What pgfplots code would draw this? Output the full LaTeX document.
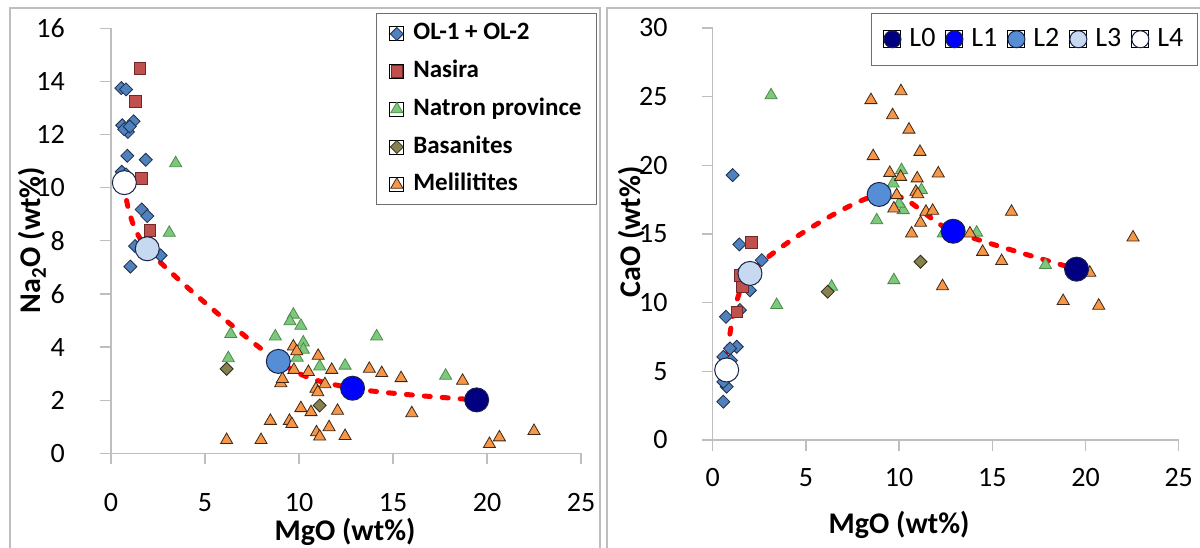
\documentclass[border=0pt]{standalone}
\usepackage{pgfplots}
\pgfplotsset{compat=1.18}
\usepackage{fontspec}
\setmainfont{Carlito}
\definecolor{olfill}{RGB}{79,129,189}
\definecolor{oldraw}{RGB}{30,45,75}
\definecolor{nafill}{RGB}{192,80,77}
\definecolor{nadraw}{RGB}{110,40,38}
\definecolor{ntfill}{RGB}{125,200,125}
\definecolor{ntdraw}{RGB}{75,140,75}
\definecolor{bafill}{RGB}{135,128,80}
\definecolor{badraw}{RGB}{45,45,25}
\definecolor{mefill}{RGB}{247,150,70}
\definecolor{medraw}{RGB}{60,40,25}
\definecolor{lzero}{RGB}{0,0,128}
\definecolor{lone}{RGB}{0,0,255}
\definecolor{ltwo}{RGB}{85,142,213}
\definecolor{lthree}{RGB}{198,217,241}
\definecolor{ldraw}{RGB}{25,35,70}
\definecolor{axgray}{RGB}{190,190,190}
\definecolor{boxgray}{RGB}{110,110,110}

\pgfplotsset{
  excel/.style={
    scale only axis,
    axis lines*=left,
    axis line style={axgray, line width=1.3pt},
    tick style={axgray, line width=1.3pt},
    tick align=outside,
    major tick length=11pt,
    xmin=0, xmax=25, xtick={0,5,...,25},
    tick label style={font=\fontsize{28}{30}\selectfont, black, inner sep=1pt},
    /pgf/number format/assume math mode=true,
    label style={font=\fontsize{30}{32}\selectfont\bfseries, inner sep=1pt},
    clip=false,
  },
  limgA/.style={legend image code/.code={\path (0pt,-7pt) rectangle (14pt,7pt); \draw[##1] plot coordinates {(7pt,0pt)};}},
  limgB/.style={legend image code/.code={\path (0pt,-8.5pt) rectangle (17pt,8.5pt); \draw[##1] plot coordinates {(8.5pt,0pt)};}},
  ol/.style={only marks, mark=square*, mark size=4.6pt, mark options={rotate=45, fill=olfill, draw=oldraw, line width=0.8pt}, limgA},
  na/.style={only marks, mark=square*, mark size=5.8pt, mark options={fill=nafill, draw=nadraw, line width=0.8pt}, limgA},
  nt/.style={only marks, mark=triangle*, mark size=7pt, mark options={fill=ntfill, draw=ntdraw, line width=0.8pt}, limgA},
  ba/.style={only marks, mark=square*, mark size=4.6pt, mark options={rotate=45, fill=bafill, draw=badraw, line width=0.8pt}, limgA},
  me/.style={only marks, mark=triangle*, mark size=7pt, mark options={fill=mefill, draw=medraw, line width=0.8pt}, limgA},
  lpt/.style={only marks, mark=*, mark size=12pt, mark options={fill=#1, draw=ldraw, line width=1pt}},
  lleg/.style={only marks, mark=*, mark size=8.5pt, mark options={fill=#1, draw=ldraw, line width=1pt}, limgB},
  trend/.style={red, line width=5pt, dash pattern=on 6pt off 12pt, line cap=round, smooth, tension=0.5, no marks},
}

\begin{document}
\begin{tikzpicture}
\path[use as bounding box] (0pt,0pt) rectangle (1200pt,547pt);
\draw[axgray, line width=1.5pt] (10pt,-10pt) -- (10pt,539pt) -- (600pt,539pt) -- (600pt,-10pt);
\draw[axgray, line width=1.5pt] (607pt,-10pt) -- (607pt,539pt) -- (1210pt,539pt);

% ---------------- left panel ----------------
\begin{axis}[excel,
  at={(111pt,93.7pt)}, anchor=south west,
  width=470pt, height=425pt,
  ymin=0, ymax=16, ytick={0,2,...,16},
  xticklabel style={yshift=-28pt},
  yticklabel style={xshift=-34pt},
  xlabel={MgO (wt\%)}, ylabel={Na$_\mathbf{2}$O (wt\%)},
  xlabel style={at={(axis description cs:0.498,-0.204)}, anchor=base},
  ylabel style={at={(axis description cs:-0.168,0.502)}, anchor=center},
  legend style={at={(1.034,1.035)}, anchor=north east, draw=boxgray, line width=1pt,
    font=\fontsize{25}{28}\selectfont\bfseries, legend cell align=left,
    inner xsep=13pt, inner ysep=6pt, row sep=9.7pt,
    nodes={inner xsep=2pt, inner ysep=2pt, text height=18pt, text depth=6pt},
    /tikz/every odd column/.append style={column sep=7pt}},
]
\addplot[ol] coordinates {
(0.55,13.75) (0.8,13.7) (0.6,12.35) (1.2,12.5) (0.9,12.1) (0.7,12.2) (1.0,12.3)
(0.87,11.2) (1.85,11.05) (0.57,10.6) (0.8,10.5) (1.63,9.18) (1.93,8.93)
(1.28,7.8) (2.64,7.45) (1.03,7.03)};
\addlegendentry{OL-1 + OL-2}
\addplot[na] coordinates {(1.54,14.5) (1.31,13.25) (1.63,10.35) (2.07,8.4)};
\addlegendentry{Nasira}
\addplot[nt] coordinates {
(3.44,10.92) (3.1,8.3) (6.37,4.49) (6.24,3.58) (8.74,4.4) (9.7,5.22) (9.52,4.97)
(10.1,4.8) (10.23,4.17) (10.23,3.9) (11.1,3.27) (12.45,3.3) (14.13,4.4) (17.8,2.92) (9.9,3.6)};
\addlegendentry{Natron province}
\addplot[ba] coordinates {(6.15,3.18) (11.1,1.8)};
\addlegendentry{Basanites}
\addplot[me] coordinates {
(6.15,0.5) (7.98,0.5) (8.48,1.22) (9.49,1.22) (9.62,1.1) (9.03,2.64) (9.12,2.8)
(9.7,4.02) (9.88,3.84) (9.73,3.14) (10.5,3.06) (11.02,3.67) (11.74,3.14) (11.38,2.6)
(10.9,2.43) (11.0,2.3) (10.1,1.7) (10.64,1.55) (12.05,1.6) (11.6,0.98) (10.93,0.79)
(11.1,0.63) (12.45,0.65) (13.74,3.18) (14.4,3.02) (15.43,2.83) (18.7,2.73) (16.0,1.51)
(20.66,0.6) (20.13,0.35) (22.5,0.84)};
\addlegendentry{Melilitites}
\addplot[lpt=lzero, forget plot] coordinates {(19.45,2.01)};
\addplot[lpt=lone, forget plot] coordinates {(12.85,2.45)};
\addplot[lpt=ltwo, forget plot] coordinates {(8.9,3.46)};
\addplot[lpt=lthree, forget plot] coordinates {(1.93,7.7)};
\addplot[lpt=white, forget plot] coordinates {(0.71,10.19)};
\addplot[trend, forget plot] coordinates {(0.71,10.19) (1.93,7.7) (8.9,3.46) (12.85,2.45) (19.45,2.01)};
\end{axis}

% ---------------- right panel ----------------
\begin{axis}[excel,
  at={(712.7pt,107pt)}, anchor=south west,
  width=466pt, height=412pt,
  ymin=0, ymax=30, ytick={0,5,...,30},
  xticklabel style={yshift=-16pt},
  yticklabel style={xshift=-33pt},
  xlabel={MgO (wt\%)}, ylabel={CaO (wt\%)},
  xlabel style={at={(axis description cs:0.40,-0.226)}, anchor=base},
  ylabel style={at={(axis description cs:-0.174,0.505)}, anchor=center},
  legend columns=5,
  legend style={at={(1.041,1.037)}, anchor=north east, draw=boxgray, line width=1pt,
    font=\fontsize{28}{30}\selectfont,
    inner xsep=12pt, inner ysep=11pt,
    nodes={inner xsep=2pt, inner ysep=2pt, text height=20pt, text depth=6pt},
    /tikz/every odd column/.append style={column sep=6pt},
    /tikz/every even column/.append style={column sep=8pt}},
]
\addplot[ol, forget plot] coordinates {
(1.07,19.29) (1.43,14.24) (2.63,13.1) (2.0,10.9) (0.71,8.97) (1.46,9.46) (1.29,6.79)
(0.93,6.67) (0.57,6.06) (0.98,5.8) (0.75,3.88) (0.57,4.24) (0.57,2.79) (1.6,12.3)};
\addplot[na, forget plot] coordinates {(2.09,14.39) (1.46,12.0) (1.6,11.16) (1.29,9.34)};
\addplot[nt, forget plot] coordinates {
(3.13,25.1) (3.43,9.83) (6.38,11.16) (10.13,19.65) (9.68,18.68) (11.2,18.2) (8.8,16.0)
(10.22,16.74) (12.37,15.04) (14.16,15.1) (9.72,11.64) (17.85,12.74) (10.0,17.2)};
\addplot[ba, forget plot] coordinates {(6.17,10.8) (11.15,12.98)};
\addplot[me, forget plot] coordinates {
(8.49,24.75) (10.1,25.4) (9.65,23.65) (10.53,22.6) (11.12,20.98) (8.61,20.67) (9.5,19.45)
(10.08,19.16) (10.97,19.05) (12.1,19.41) (10.9,18.07) (11.0,17.9) (9.87,17.83) (9.72,16.86)
(11.44,16.62) (11.8,16.69) (11.15,15.82) (10.67,15.04) (13.8,15.04) (16.03,16.62)
(22.55,14.75) (14.48,13.7) (15.5,13.03) (12.33,11.2) (20.23,12.18) (18.8,10.12) (20.71,9.78)};
\addplot[lpt=lzero, forget plot] coordinates {(19.52,12.44)};
\addplot[lpt=lone, forget plot] coordinates {(12.9,15.2)};
\addplot[lpt=ltwo, forget plot] coordinates {(8.93,17.88)};
\addplot[lpt=lthree, forget plot] coordinates {(2.0,12.13)};
\addplot[lpt=white, forget plot] coordinates {(0.75,5.1)};
\addplot[trend, forget plot] coordinates {(0.75,5.1) (2.0,12.13) (8.93,17.88) (12.9,15.2) (19.52,12.44)};
\addlegendimage{lleg=lzero}
\addlegendentry{L0}
\addlegendimage{lleg=lone}
\addlegendentry{L1}
\addlegendimage{lleg=ltwo}
\addlegendentry{L2}
\addlegendimage{lleg=lthree}
\addlegendentry{L3}
\addlegendimage{lleg=white}
\addlegendentry{L4}
\end{axis}
\end{tikzpicture}
\end{document}
